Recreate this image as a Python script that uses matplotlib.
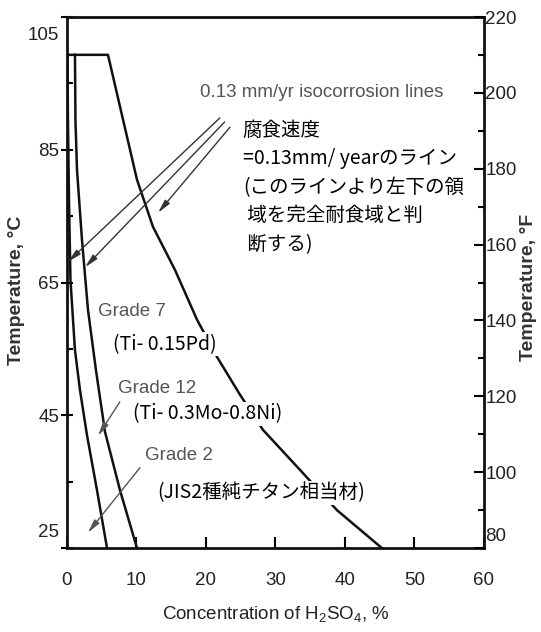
import matplotlib
matplotlib.use('Agg')
import matplotlib.pyplot as plt
from matplotlib import font_manager
from matplotlib.transforms import ScaledTranslation

# isocorrosion lines (0.13 mm/yr): H2SO4 % vs deg C
grade2_conc = [0.07, 0.14, 0.29, 0.5, 1.15, 1.87, 2.88, 4.32, 5.76]
grade2_temp = [99.3, 89.5, 77.4, 65.4, 54.8, 48.8, 42.0, 33.7, 25.0]

grade12_conc = [1.15, 1.22, 1.44, 2.16, 3.02, 4.17, 5.47, 7.63, 10.07]
grade12_temp = [99.3, 89.5, 82.0, 71.4, 60.9, 51.8, 42.5, 33.7, 25.0]

grade7_conc = [0.0, 5.9, 10.07, 12.37, 15.54, 18.71, 21.58, 24.89, 28.2, 33.5, 38.85, 45.3]
grade7_temp = [99.3, 99.3, 80.5, 73.4, 66.9, 59.4, 53.8, 48.1, 42.8, 36.8, 30.7, 25.0]

conc_ticks = [0, 10, 20, 30, 40, 50, 60]
temp_c_ticks = [25, 45, 65, 85, 105]
temp_c_minor = [35, 55, 75, 95]
temp_f_ticks = [80, 100, 120, 140, 160, 180, 200, 220]
temp_f_minor = [90, 110, 130, 150, 170, 190, 210]

jp_note = '腐食速度\n=0.13mm/ yearのライン\n(このラインより左下の領\n 域を完全耐食域と判\n 断する)'

names = {f.name for f in font_manager.fontManager.ttflist}
if 'Liberation Sans Narrow' in names:
    narrow, tick_fs, grey_fs = 'Liberation Sans Narrow', 16, 15
else:
    narrow, tick_fs, grey_fs = 'Liberation Sans', 13.5, 13.5
jp = ['Noto Sans CJK JP', 'DejaVu Sans']

plt.rcParams['mathtext.fontset'] = 'custom'
plt.rcParams['mathtext.rm'] = narrow
plt.rcParams['mathtext.it'] = narrow

fig = plt.figure(figsize=(5.41, 6.32), dpi=100)
ax = fig.add_axes([0.1238, 0.1329, 0.7708, 0.8402])

for xs, ys in [(grade2_conc, grade2_temp), (grade12_conc, grade12_temp), (grade7_conc, grade7_temp)]:
    ax.plot(xs, ys, color='#111', lw=1.8, solid_joinstyle='round', zorder=3)

ax.set_xlim(0, 60)
ax.set_ylim(25, 105)
ax.set_xticks(conc_ticks)
ax.set_yticks(temp_c_ticks)
ax.set_yticks(temp_c_minor, minor=True)
ax.tick_params(axis='x', direction='in', length=8, width=1.5, pad=17,
               labelsize=tick_fs, labelcolor='#222')
ax.tick_params(axis='y', which='major', direction='inout', length=9, width=1.5, pad=1,
               labelsize=tick_fs, labelcolor='#222')
ax.tick_params(axis='y', which='minor', direction='in', length=4, width=1.5)
for lab in ax.get_xticklabels() + ax.get_yticklabels():
    lab.set_fontfamily(narrow)

# the end labels sit a little inside the frame in the original
ylabs = ax.yaxis.get_majorticklabels()
ylabs[0].set_va('bottom')
ylabs[0].set_transform(ylabs[0].get_transform() + ScaledTranslation(0, 5 / 72, fig.dpi_scale_trans))
ylabs[-1].set_va('top')
ylabs[-1].set_transform(ylabs[-1].get_transform() + ScaledTranslation(0, -7 / 72, fig.dpi_scale_trans))

for sp in ax.spines.values():
    sp.set_linewidth(2)
    sp.set_color('#111')

ax2 = ax.twinx()
ax2.set_ylim(80, 220)
ax2.set_yticks(temp_f_ticks)
ax2.set_yticks(temp_f_minor, minor=True)
ax2.tick_params(axis='y', which='major', direction='in', length=7, width=1.5, pad=1,
                labelsize=tick_fs, labelcolor='#222')
ax2.tick_params(axis='y', which='minor', direction='in', length=4, width=1.5)
for lab in ax2.get_yticklabels():
    lab.set_fontfamily(narrow)
flabs = ax2.yaxis.get_majorticklabels()
flabs[0].set_va('bottom')
flabs[0].set_transform(flabs[0].get_transform() + ScaledTranslation(0, 2 / 72, fig.dpi_scale_trans))
for sp in ax2.spines.values():
    sp.set_visible(False)

ax.set_xlabel('Concentration of H$_2$SO$_4$, %', fontsize=13.5, color='#222', family=narrow)
ax.xaxis.set_label_coords(0.5, -0.105)
ax.set_ylabel('Temperature, °C', fontsize=14, color='#333', family='Liberation Sans', weight='bold')
ax.yaxis.set_label_coords(-0.10, 0.485)
ax2.set_ylabel('Temperature, °F', fontsize=14, color='#333', family='Liberation Sans', weight='bold')
ax2.yaxis.set_label_coords(1.086, 0.49)

# arrows from the isocorrosion label to the three lines
arrow = dict(arrowstyle='-|>,head_length=0.8,head_width=0.18', color='#333', lw=1.0,
             shrinkA=0, shrinkB=0)
for start, end in [((22.0, 89.8), (0.14, 68.1)), ((22.7, 89.2), (2.6, 67.3)),
                   ((23.45, 88.4), (13.1, 75.5))]:
    ax.annotate('', xy=end, xytext=start, arrowprops=arrow, zorder=4)
grey_arrow = dict(arrow, color='#555')
ax.annotate('', xy=(4.46, 41.9), xytext=(7.6, 47.0), arrowprops=grey_arrow, zorder=4)
ax.annotate('', xy=(3.0, 27.3), xytext=(10.5, 37.1), arrowprops=grey_arrow, zorder=4)

grey_kw = dict(color='#555', family=narrow, fontsize=grey_fs, va='center', ha='left', zorder=5)
ax.text(19.1, 93.7, '0.13 mm/yr isocorrosion lines', **grey_kw)
ax.text(4.46, 60.6, 'Grade 7', **grey_kw)
ax.text(7.34, 49.0, 'Grade 12', **grey_kw)
ax.text(11.2, 38.9, 'Grade 2', **grey_kw)

box = dict(facecolor='white', edgecolor='none', pad=1)
jp_kw = dict(color='black', family=jp, fontsize=14, va='center', ha='left', zorder=5, bbox=box)
ax.text(6.6, 55.7, '(Ti- 0.15Pd)', **jp_kw)
ax.text(9.5, 45.2, '(Ti- 0.3Mo-0.8Ni)', **jp_kw)
ax.text(12.95, 33.3, '(JIS2種純チタン相当材)', **jp_kw)
ax.text(25.3, 89.5, jp_note, color='black', family=jp, fontsize=14, va='top', ha='left',
        linespacing=1.47, zorder=5)

fig.savefig('out.png', dpi=100)
plt.close(fig)
